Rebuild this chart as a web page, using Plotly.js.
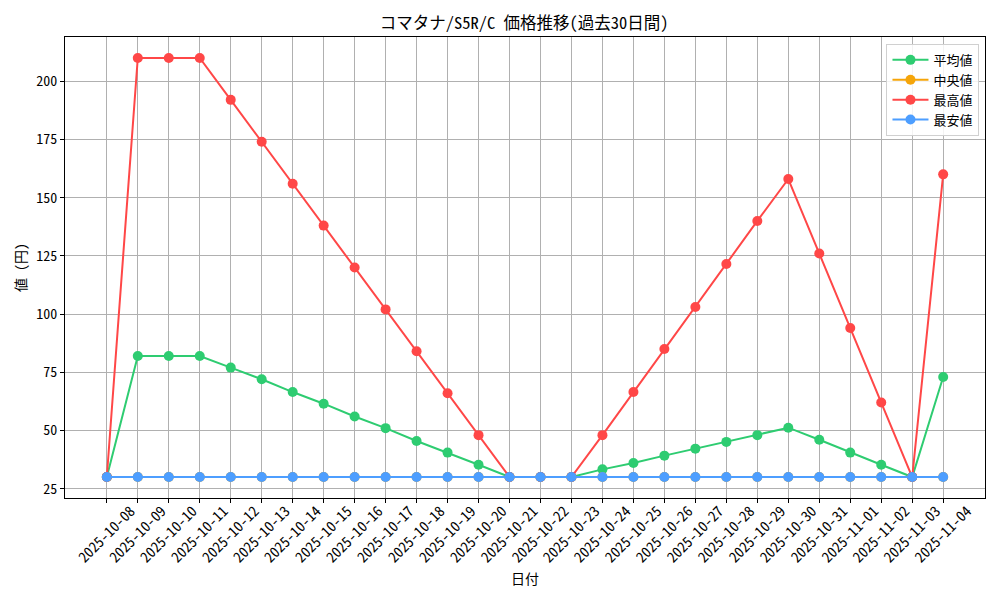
<!DOCTYPE html>
<html>
<head>
<meta charset="utf-8">
<script src="https://cdn.plot.ly/plotly-3.0.1.min.js"></script>
<style>body{margin:0;padding:0;background:#fff;}</style>
</head>
<body>
<div id="chart" style="width:1000px;height:600px;"></div>
<script>
const dates = ["2025-10-08","2025-10-09","2025-10-10","2025-10-11","2025-10-12","2025-10-13","2025-10-14","2025-10-15","2025-10-16","2025-10-17","2025-10-18","2025-10-19","2025-10-20","2025-10-21","2025-10-22","2025-10-23","2025-10-24","2025-10-25","2025-10-26","2025-10-27","2025-10-28","2025-10-29","2025-10-30","2025-10-31","2025-11-01","2025-11-02","2025-11-03","2025-11-04"];
const avgValues = [30,82,82,82,77,72,66.5,61.5,56,51,45.5,40.5,35.3,30,30,30,33.3,36,39.2,42.2,45.1,48,51.2,46,40.5,35.3,30,73];
const medianValues = [30,30,30,30,30,30,30,30,30,30,30,30,30,30,30,30,30,30,30,30,30,30,30,30,30,30,30,30];
const maxValues = [30,210,210,210,192,174,156,138,120,102,84,66,48,30,30,30,48,66.5,85,103,121.5,140,158,126,94,62,30,160];
const minValues = [30,30,30,30,30,30,30,30,30,30,30,30,30,30,30,30,30,30,30,30,30,30,30,30,30,30,30,30];

const FONT = '"Noto Sans Mono CJK JP", "Noto Sans CJK JP", "DejaVu Sans", sans-serif';
function tr(name, y, color) {
  return {x: dates, y: y, name: name, type: 'scatter', mode: 'lines+markers',
    line: {color: color, width: 2}, marker: {color: color, size: 10}};
}
const data = [
  tr('平均値', avgValues, '#2ecc71'),
  tr('中央値', medianValues, '#f5a50a'),
  tr('最高値', maxValues, '#ff4747'),
  tr('最安値', minValues, '#4d9eff')
];
const axisCommon = {
  showline: true, linecolor: '#000', linewidth: 1, mirror: true,
  showgrid: true, gridcolor: '#b0b0b0', gridwidth: 1,
  ticks: 'outside', ticklen: 4, tickcolor: '#000', zeroline: false,
  tickfont: {family: FONT, size: 14, color: '#000'}
};
const layout = {
  width: 1000, height: 600,
  margin: {l: 65, r: 15, t: 37, b: 102},
  paper_bgcolor: '#fff', plot_bgcolor: '#fff',
  font: {family: FONT, color: '#000'},
  title: {text: 'コマタナ/S5R/C 価格推移(過去30日間)', x: 0.524, xanchor: 'center', y: 0.962, yanchor: 'middle',
    font: {family: FONT, size: 16.5, color: '#000'}},
  xaxis: Object.assign({}, axisCommon, {
    type: 'category', range: [-1.35, 28.35], tickangle: -45,
    tickfont: {family: FONT, size: 14.5, color: '#000'},
    ticklabelshift: 24, ticklabelstandoff: -6
  }),
  yaxis: Object.assign({}, axisCommon, {
    range: [21.0, 219.0], tickvals: [25,50,75,100,125,150,175,200],
    title: {text: '値 (円)', font: {family: FONT, size: 14}, standoff: 6}
  }),
  annotations: [{
    text: '日付', xref: 'paper', yref: 'paper', x: 0.5, y: -0.1735,
    xanchor: 'center', yanchor: 'middle', showarrow: false,
    font: {family: FONT, size: 14, color: '#000'}
  }],
  legend: {x: 0.994, xanchor: 'right', y: 0.985, yanchor: 'top',
    bgcolor: 'rgba(255,255,255,0.85)', bordercolor: '#d0d0d0', borderwidth: 1,
    font: {family: FONT, size: 13}, tracegroupgap: 0, itemwidth: 36},
  showlegend: true
};
Plotly.newPlot('chart', data, layout, {displayModeBar: false, staticPlot: true});
</script>
</body>
</html>
